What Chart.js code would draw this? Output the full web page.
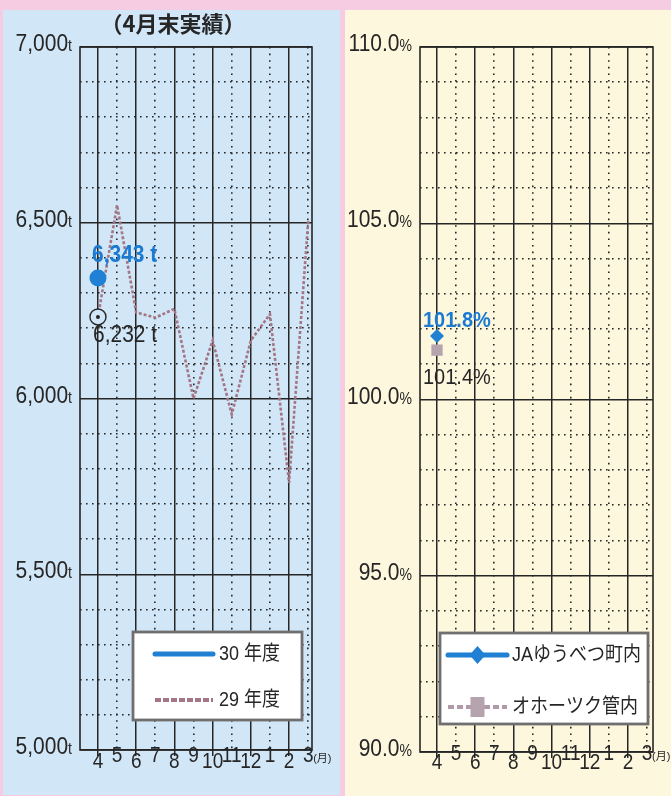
<!DOCTYPE html>
<html>
<head>
<meta charset="utf-8">
<script src="https://cdn.jsdelivr.net/npm/chart.js@4.4.1/dist/chart.umd.min.js"></script>
<style>
  body { margin: 0; width: 671px; height: 796px; background: #f6cce2; position: relative; overflow: hidden; }
  .panel { position: absolute; }
  #p1 { left: 3px; top: 10px; width: 337px; height: 785px; background: #d1e6f7; }
  #p2 { left: 345px; top: 10px; width: 326px; height: 786px; background: #fdf7dd; }
</style>
</head>
<body>
<div class="panel" id="p1"><canvas id="left" width="337" height="785"></canvas></div>
<div class="panel" id="p2"><canvas id="right" width="326" height="786"></canvas></div>
<script>
// data
const months = ['4', '5', '6', '7', '8', '9', '10', '11', '12', '1', '2', '3'];
const tons30 = [6343];
const tons29 = [6232, 6550, 6245, 6230, 6255, 6000, 6165, 5955, 6165, 6240, 5760, 6505];
const ratioJA = [101.8];
const ratioOkhotsk = [101.4];
const tonTicks = [5000, 5500, 6000, 6500, 7000];
const pctTicks = [90, 95, 100, 105, 110];

const ink = '#262626';
const blue = '#1f80d4';
const mauve = '#a47585';
const numFont = '"Liberation Sans", "Noto Sans CJK JP"';

function points(vals) {
    return vals.map((v, i) => ({ x: i, y: v }));
}

// solid lines on even months / major values, dotted lines on the rest
function gridScales(xMin, xMax, majors, minorStep) {
    const idx = months.map((m, i) => i);
    const lo = majors[0], hi = majors[majors.length - 1];
    const base = {
        type: 'linear',
        ticks: { display: false },
        border: { display: false }
    };
    return {
        x: Object.assign({}, base, {
            min: xMin, max: xMax,
            afterBuildTicks: s => { s.ticks = idx.filter(i => i % 2 === 0).map(v => ({ value: v })); },
            afterFit: s => { s.height = 0; },
            grid: { color: ink, lineWidth: 1.5, drawTicks: true, tickLength: 6 }
        }),
        xDot: Object.assign({}, base, {
            position: 'bottom', min: xMin, max: xMax,
            afterBuildTicks: s => { s.ticks = idx.filter(i => i % 2 === 1).map(v => ({ value: v })); },
            afterFit: s => { s.height = 0; },
            grid: { color: ink, lineWidth: 1.6, drawTicks: false },
            border: { display: false, dash: [1.6, 5] }
        }),
        y: Object.assign({}, base, {
            min: lo, max: hi,
            afterBuildTicks: s => { s.ticks = majors.map(v => ({ value: v })); },
            afterFit: s => { s.width = 0; },
            grid: { color: ink, lineWidth: 1.5, drawTicks: false }
        }),
        yDot: Object.assign({}, base, {
            position: 'left', min: lo, max: hi,
            afterBuildTicks: s => {
                const t = [];
                for (let v = lo + minorStep; v < hi; v += minorStep) {
                    if (!majors.some(m => Math.abs(m - v) < minorStep / 10)) t.push({ value: v });
                }
                s.ticks = t;
            },
            afterFit: s => { s.width = 0; },
            grid: { color: ink, lineWidth: 1.6, drawTicks: false },
            border: { display: false, dash: [1.6, 4.4] }
        })
    };
}

// text drawn slightly taller than wide, like the printed figures
function tallText(ctx, text, x, y) {
    ctx.save();
    ctx.translate(x, y);
    ctx.scale(1, 1.14);
    ctx.fillText(text, 0, 0);
    ctx.restore();
}

function panelPlugin(cfg) {
    return {
        id: 'panel',
        beforeDatasetsDraw(chart) {
            const { ctx, chartArea: a } = chart;
            ctx.save();
            ctx.strokeStyle = ink;
            ctx.lineWidth = 1.6;
            ctx.strokeRect(a.left, a.top, a.right - a.left, a.bottom - a.top);
            ctx.restore();
        },
        afterDatasetsDraw(chart) {
            const { ctx, chartArea: a, scales } = chart;
            ctx.save();
            if (cfg.centreDot !== undefined) {
                const p = chart.getDatasetMeta(cfg.centreDot).data[0];
                ctx.fillStyle = ink;
                ctx.beginPath();
                ctx.arc(p.x, p.y, 2, 0, Math.PI * 2);
                ctx.fill();
            }
            // title
            if (cfg.title) {
                ctx.fillStyle = ink;
                ctx.font = 'bold 22px "Noto Sans CJK JP"';
                ctx.textAlign = 'center';
                ctx.textBaseline = 'middle';
                ctx.fillText(cfg.title, cfg.titleX, 14);
            }
            // y labels
            ctx.fillStyle = ink;
            ctx.textAlign = 'right';
            ctx.textBaseline = 'alphabetic';
            cfg.yTicks.forEach(v => {
                const py = scales.y.getPixelForValue(v);
                const right = a.left - 8;
                ctx.font = '14px ' + numFont;
                const uw = ctx.measureText(cfg.unit).width;
                tallText(ctx, cfg.unit, right, py + 4);
                ctx.font = '21px ' + numFont;
                tallText(ctx, cfg.fmt(v), right - uw, py + 4);
            });
            // x labels, staggered
            ctx.textAlign = 'center';
            ctx.font = '19px ' + numFont;
            months.forEach((m, i) => {
                const px = scales.x.getPixelForValue(i);
                tallText(ctx, m, px, a.bottom + (i % 2 ? cfg.stagger[1] : cfg.stagger[0]));
            });
            ctx.textAlign = 'left';
            ctx.font = '11px ' + numFont;
            ctx.fillText('(月)', scales.x.getPixelForValue(months.length - 1) + 5, a.bottom + cfg.stagger[1]);
            // value notes
            ctx.textBaseline = 'middle';
            cfg.notes.forEach(n => {
                const p = chart.getDatasetMeta(n.ds).data[0];
                ctx.font = (n.bold ? 'bold ' : '') + n.size + 'px ' + numFont;
                ctx.fillStyle = n.color;
                tallText(ctx, n.text, p.x + n.dx, p.y + n.dy);
            });
            // legend box
            const L = cfg.legend;
            ctx.fillStyle = '#ffffff';
            ctx.fillRect(L.box[0], L.box[1], L.box[2], L.box[3]);
            ctx.strokeStyle = '#6f6f6f';
            ctx.lineWidth = 2.8;
            ctx.strokeRect(L.box[0], L.box[1], L.box[2], L.box[3]);
            L.rows.forEach(r => {
                const ds = chart.data.datasets[r.ds];
                ctx.strokeStyle = r.color;
                ctx.lineWidth = r.width;
                ctx.setLineDash(r.dash || []);
                ctx.lineCap = r.dash ? 'butt' : 'round';
                ctx.beginPath();
                ctx.moveTo(L.x0, r.y);
                ctx.lineTo(L.x1, r.y);
                ctx.stroke();
                ctx.setLineDash([]);
                const mx = (L.x0 + L.x1) / 2;
                if (r.marker === 'diamond') {
                    ctx.fillStyle = r.fill;
                    ctx.beginPath();
                    ctx.moveTo(mx, r.y - 9);
                    ctx.lineTo(mx + 8, r.y);
                    ctx.lineTo(mx, r.y + 9);
                    ctx.lineTo(mx - 8, r.y);
                    ctx.closePath();
                    ctx.fill();
                } else if (r.marker === 'rect') {
                    ctx.fillStyle = r.fill;
                    ctx.fillRect(mx - 7, r.y - 10, 14, 20);
                }
                ctx.fillStyle = ink;
                ctx.font = L.size + 'px ' + numFont;
                ctx.textAlign = 'left';
                tallText(ctx, ds.label, L.tx, r.y);
            });
            ctx.restore();
        }
    };
}

new Chart(document.getElementById('left'), {
    type: 'line',
    data: {
        datasets: [{
            label: '30 年度',
            data: points(tons30),
            borderColor: blue,
            backgroundColor: blue,
            borderWidth: 4,
            pointRadius: 8.5,
            pointBorderWidth: 0
        }, {
            label: '29 年度',
            data: points(tons29),
            borderColor: mauve,
            borderWidth: 2.6,
            borderDash: [3, 2],
            pointRadius: ctx => ctx.dataIndex === 0 ? 8 : 0,
            pointBackgroundColor: '#d1e6f7',
            pointBorderColor: ink,
            pointBorderWidth: 1.4,
            tension: 0
        }]
    },
    options: {
        responsive: false,
        animation: false,
        layout: { padding: { left: 77, top: 37, right: 28, bottom: 45 } },
        scales: gridScales(-0.94, 11.2, tonTicks, 100),
        plugins: { legend: { display: false }, tooltip: { enabled: false } }
    },
    plugins: [panelPlugin({
        title: '（4月末実績）',
        titleX: 170,
        yTicks: tonTicks,
        unit: 't',
        fmt: v => v.toLocaleString('en-US'),
        stagger: [18, 12],
        centreDot: 1,
        notes: [
            { ds: 0, text: tons30[0].toLocaleString('en-US') + ' t', dx: -6, dy: -23, color: '#1b7bd3', bold: true, size: 21 },
            { ds: 1, text: tons29[0].toLocaleString('en-US') + ' t', dx: -5, dy: 18, color: ink, bold: false, size: 21 }
        ],
        legend: {
            box: [130, 622, 169, 88], x0: 152, x1: 210, tx: 216, size: 18,
            rows: [
                { ds: 0, y: 644, color: blue, width: 5 },
                { ds: 1, y: 690, color: mauve, width: 4, dash: [6, 2] }
            ]
        }
    })]
});

new Chart(document.getElementById('right'), {
    type: 'line',
    data: {
        datasets: [{
            label: 'JAゆうべつ町内',
            data: points(ratioJA),
            borderColor: blue,
            backgroundColor: blue,
            pointStyle: 'rectRot',
            pointRadius: 7,
            pointBorderWidth: 0
        }, {
            label: 'オホーツク管内',
            data: points(ratioOkhotsk),
            borderColor: '#b9a6b1',
            backgroundColor: '#b5a3ad',
            pointStyle: 'rect',
            pointRadius: 8,
            pointBorderWidth: 0
        }]
    },
    options: {
        responsive: false,
        animation: false,
        layout: { padding: { left: 75, top: 37, right: 18, bottom: 44 } },
        scales: gridScales(-0.89, 11.31, pctTicks, 1),
        plugins: { legend: { display: false }, tooltip: { enabled: false } }
    },
    plugins: [panelPlugin({
        yTicks: pctTicks,
        unit: '%',
        fmt: v => v.toFixed(1),
        stagger: [17, 8],
        notes: [
            { ds: 0, text: ratioJA[0].toFixed(1) + '%', dx: -14, dy: -15, color: '#1b7bd3', bold: true, size: 20 },
            { ds: 1, text: ratioOkhotsk[0].toFixed(1) + '%', dx: -14, dy: 28, color: ink, bold: false, size: 20 }
        ],
        legend: {
            box: [95, 623, 208, 91], x0: 103, x1: 162, tx: 167, size: 18,
            rows: [
                { ds: 0, y: 645, color: blue, width: 5, marker: 'diamond', fill: blue },
                { ds: 1, y: 697, color: '#b09aa8', width: 4, dash: [6, 3], marker: 'rect', fill: '#b5a3ad' }
            ]
        }
    })]
});
</script>
</body>
</html>
